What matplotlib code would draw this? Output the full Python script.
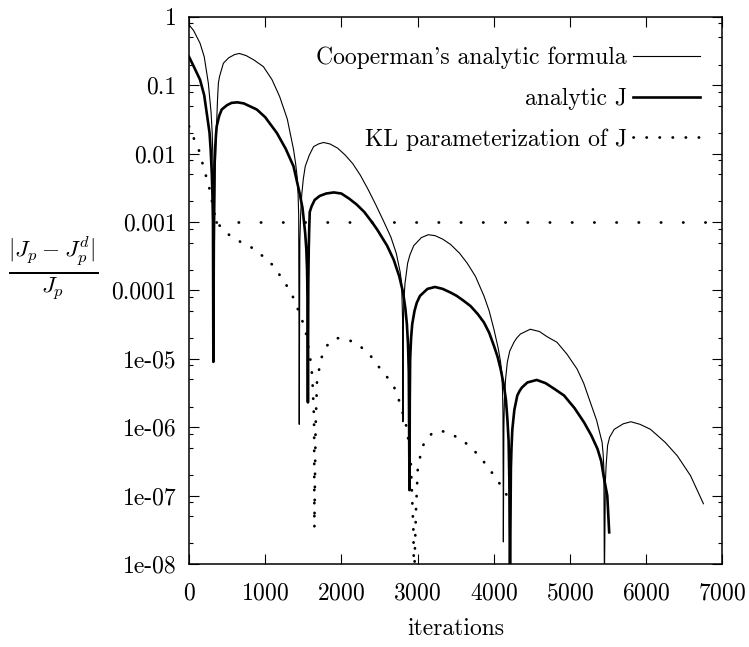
import matplotlib
matplotlib.use("Agg")
import matplotlib.pyplot as plt
from matplotlib.ticker import FixedLocator, FixedFormatter, LogLocator, NullFormatter

plt.rcParams['font.family'] = 'serif'
plt.rcParams['font.serif'] = ['cmr10', 'DejaVu Serif']
plt.rcParams['mathtext.fontset'] = 'cm'
plt.rcParams['axes.formatter.use_mathtext'] = True

# Cooperman's analytic formula (thin line)
coop_x = [0, 60, 145, 200, 254, 290, 305, 315, 325, 332, 335, 343, 350, 357, 365, 375, 386, 400,
          420, 452, 520, 600, 662, 750, 850, 977, 1090, 1190, 1290, 1372, 1400, 1420, 1432, 1440,
          1447, 1455, 1465, 1480, 1500, 1526, 1580, 1635, 1700, 1766, 1850, 1950, 2050, 2150, 2250,
          2350, 2450, 2550, 2650, 2720, 2770, 2790, 2803, 2808, 2812, 2820, 2835, 2870, 2900, 2950,
          3050, 3140, 3230, 3330, 3432, 3550, 3651, 3760, 3871, 3940, 4002, 4060, 4090, 4105, 4115,
          4121, 4126, 4133, 4140, 4155, 4178, 4210, 4265, 4300, 4350, 4479, 4600, 4700, 4830, 4960,
          5093, 5180, 5268, 5350, 5422, 5436, 5445, 5452, 5465, 5475, 5494, 5520, 5581, 5700, 5800,
          5920, 6057, 6250, 6410, 6583, 6752]
coop_y = [0.76, 0.63, 0.41, 0.26, 0.107, 0.040, 0.020, 7.9e-3, 2.5e-3, 1e-3, 5.5e-4, 5e-3, 0.010,
          0.018, 0.032, 0.063, 0.107, 0.132, 0.158, 0.209, 0.25, 0.28, 0.29, 0.27, 0.234, 0.186,
          0.12, 0.068, 0.032, 0.0115, 7.1e-3, 4.5e-3, 2.5e-3, 1.26e-3, 1.1e-6, 5e-4, 1.26e-3,
          2.5e-3, 4.2e-3, 6.5e-3, 9.5e-3, 0.0126, 0.0138, 0.0145, 0.0138, 0.012, 9.5e-3, 7.1e-3,
          4.8e-3, 3.0e-3, 1.8e-3, 1.05e-3, 6.0e-4, 3.5e-4, 1.9e-4, 1.3e-4, 4e-5, 1.2e-6, 2.5e-5,
          7.1e-5, 1.26e-4, 2.5e-4, 3.3e-4, 4.5e-4, 5.9e-4, 6.5e-4, 6.3e-4, 5.6e-4, 4.7e-4, 3.5e-4,
          2.5e-4, 1.6e-4, 8.3e-5, 5e-5, 2.7e-5, 1.4e-5, 8.9e-6, 6.3e-6, 3.5e-6, 1.6e-6, 2.1e-8,
          1e-6, 2.5e-6, 5e-6, 8.9e-6, 1.3e-5, 1.74e-5, 2.0e-5, 2.3e-5, 2.7e-5, 2.5e-5, 2.1e-5,
          1.74e-5, 1.17e-5, 7.1e-6, 4.4e-6, 2.3e-6, 1.26e-6, 6.0e-7, 4.0e-7, 2.5e-7, 5e-9, 1.6e-7,
          2.8e-7, 5.4e-7, 7.1e-7, 9.3e-7, 1.12e-6, 1.2e-6, 1.1e-6, 9.3e-7, 6.0e-7, 3.8e-7, 1.95e-7,
          7.6e-8]

# analytic J (thick line)
anj_x = [0, 60, 145, 200, 270, 285, 300, 308, 315, 320, 328, 335, 345, 355, 364, 395, 430, 500,
         560, 636, 720, 800, 890, 1000, 1153, 1270, 1372, 1453, 1490, 1525, 1540, 1550, 1556, 1561,
         1566, 1572, 1578, 1585, 1610, 1650, 1716, 1800, 1901, 2000, 2100, 2200, 2300, 2400, 2468,
         2600, 2687, 2760, 2810, 2840, 2860, 2875, 2885, 2894, 2898, 2903, 2915, 2930, 2960, 2990,
         3032, 3130, 3229, 3330, 3432, 3514, 3600, 3695, 3790, 3871, 3940, 4002, 4050, 4090, 4134,
         4160, 4180, 4195, 4205, 4213, 4225, 4233, 4244, 4270, 4309, 4340, 4370, 4441, 4564, 4680,
         4800, 4923, 5060, 5186, 5280, 5362, 5410, 5441, 5490, 5515]
anj_y = [0.26, 0.19, 0.12, 0.071, 0.020, 0.0112, 5e-3, 2.5e-3, 1e-3, 9e-6, 1.6e-3, 6.3e-3, 0.0126,
         0.019, 0.025, 0.035, 0.044, 0.051, 0.055, 0.056, 0.054, 0.049, 0.044, 0.034, 0.020,
         0.0117, 6.5e-3, 2.6e-3, 1.6e-3, 6.9e-4, 4e-4, 2e-4, 7.9e-5, 2.3e-6, 1.26e-4, 4e-4,
         7.9e-4, 1.4e-3, 1.7e-3, 2.1e-3, 2.4e-3, 2.6e-3, 2.7e-3, 2.6e-3, 2.2e-3, 1.8e-3, 1.4e-3,
         1.0e-3, 7.8e-4, 4.5e-4, 2.8e-4, 1.6e-4, 9.3e-5, 5.4e-5, 3.2e-5, 1.6e-5, 6.3e-6, 1.2e-7,
         2.5e-6, 1e-5, 2e-5, 3.2e-5, 5e-5, 6.6e-5, 8.3e-5, 1.05e-4, 1.12e-4, 1.05e-4, 9.3e-5,
         8.3e-5, 7.1e-5, 5.9e-5, 4.5e-5, 3.4e-5, 2.4e-5, 1.55e-5, 1.07e-5, 7.1e-6, 4e-6, 2.5e-6,
         1.26e-6, 6.3e-7, 1.6e-7, 5e-9, 2.5e-7, 5e-7, 9.3e-7, 1.78e-6, 2.9e-6, 3.4e-6, 3.8e-6,
         4.5e-6, 4.9e-6, 4.4e-6, 3.6e-6, 2.9e-6, 1.9e-6, 1.17e-6, 7.6e-7, 4.8e-7, 3.2e-7, 1.95e-7,
         1e-7, 2.9e-8]

# KL parameterization of J (dotted)
kl_x = [0, 72, 145, 197, 254, 298, 349, 400, 452, 517, 600, 714, 825, 921, 1000, 1088, 1160, 1232,
        1293, 1355, 1403, 1447, 1495, 1535, 1582, 1605, 1618, 1625, 1638, 1643, 1646, 1662, 1680,
        1706, 1732, 1780, 1845, 1951, 2087, 2200, 2293, 2400, 2512, 2600, 2687, 2750, 2797, 2863,
        2910, 2945, 2955, 2965, 2980, 3003, 3060, 3126, 3200, 3295, 3400, 3521, 3600, 3695, 3790,
        3871, 3940, 4002, 4060, 4112, 4186]
kl_y = [0.025, 0.0158, 0.0102, 5.8e-3, 3.7e-3, 2.1e-3, 1.1e-3, 8.9e-4, 7.8e-4, 6.6e-4, 5.6e-4,
        4.9e-4, 4.2e-4, 3.5e-4, 2.95e-4, 2.4e-4, 1.86e-4, 1.45e-4, 1.12e-4, 8.5e-5, 6.3e-5, 4.7e-5,
        3.4e-5, 2.4e-5, 1.17e-5, 7.9e-6, 5.4e-6, 3.6e-6, 1.66e-6, 9.3e-7, 3.4e-8, 1e-6, 4.5e-6,
        6.8e-6, 9.8e-6, 1.38e-5, 1.74e-5, 2.0e-5, 1.9e-5, 1.66e-5, 1.38e-5, 1.05e-5, 7.1e-6, 5.4e-6,
        4.0e-6, 2.6e-6, 1.74e-6, 9.3e-7, 3.2e-7, 3.2e-8, 5e-9, 1.6e-8, 6.3e-8, 2.5e-7, 5.1e-7,
        6.9e-7, 8.3e-7, 8.9e-7, 8.3e-7, 7.1e-7, 6.3e-7, 5.1e-7, 4.0e-7, 3.1e-7, 2.5e-7, 1.95e-7,
        1.6e-7, 1.3e-7, 9.5e-8]
kl_flat_x = [350, 7000]
kl_flat_y = [1e-3, 1e-3]

xticks = [0, 1000, 2000, 3000, 4000, 5000, 6000, 7000]
yticks = [1e-8, 1e-7, 1e-6, 1e-5, 1e-4, 1e-3, 1e-2, 1e-1, 1]
ylabels = ["1e-08", "1e-07", "1e-06", "1e-05", "0.0001", "0.001", "0.01", "0.1", "1"]
labels = ["Cooperman's analytic formula", "analytic J", "KL parameterization of J"]

fig = plt.figure(figsize=(7.49, 6.47), dpi=100)
ax = fig.add_axes([0.2523, 0.1283, 0.7121, 0.8459])

ax.plot(coop_x, coop_y, color="black", lw=0.8, label=labels[0])
ax.plot(anj_x, anj_y, color="black", lw=1.9, label=labels[1])
ax.plot(kl_x, kl_y, color="black", lw=2.0, linestyle=(0, (0.1, 4.6)),
        dash_capstyle="round", label=labels[2])
ax.plot(kl_flat_x, kl_flat_y, color="black", lw=2.0, linestyle=(0, (0.1, 7.9)),
        dash_capstyle="round")

ax.set_yscale("log")
ax.set_xlim(0, 7000)
ax.set_ylim(1e-8, 1)
ax.xaxis.set_major_locator(FixedLocator(xticks))
ax.yaxis.set_major_locator(FixedLocator(yticks))
ax.yaxis.set_major_formatter(FixedFormatter(ylabels))
ax.yaxis.set_minor_locator(LogLocator(base=10, subs=(2, 5, 8), numticks=20))
ax.yaxis.set_minor_formatter(NullFormatter())

ax.tick_params(which="both", direction="in", top=True, right=True, width=0.8, labelsize=17)
ax.tick_params(which="major", length=7.2)
ax.tick_params(which="minor", length=3.2)
ax.tick_params(axis="y", pad=9)
ax.tick_params(axis="x", pad=13)
for s in ax.spines.values():
    s.set_linewidth(1.1)

ax.set_xlabel("iterations", fontsize=17, labelpad=10)
fig.text(0.071, 0.585, r"$\frac{|J_p \:-\: J_p^d|}{J_p}$", fontsize=24, ha="center", va="center")

leg = ax.legend(loc="upper right", bbox_to_anchor=(0.958, 0.945), frameon=False,
                markerfirst=False, handlelength=2.85, handletextpad=0.25,
                labelspacing=0.78, borderpad=0, borderaxespad=0, fontsize=17)

fig.savefig("out.png", dpi=100)
